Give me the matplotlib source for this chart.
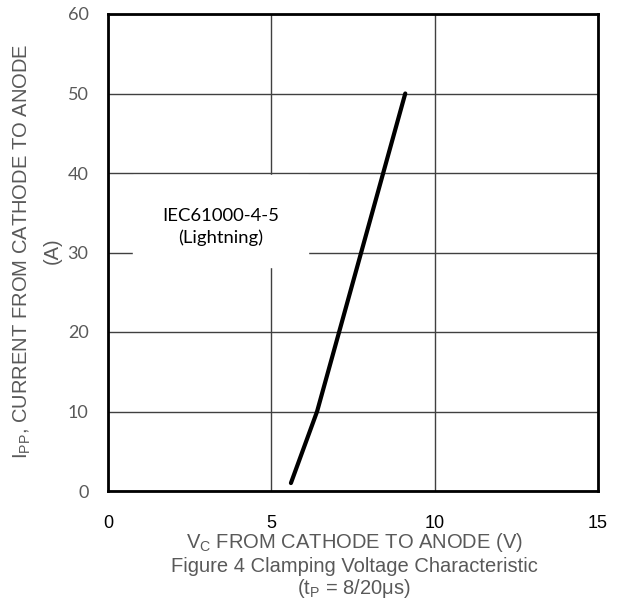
import matplotlib.pyplot as plt

plt.rcParams['mathtext.fontset'] = 'custom'
plt.rcParams['mathtext.rm'] = 'Liberation Sans'
plt.rcParams['mathtext.it'] = 'Liberation Sans'

# clamping curve (Vc vs Ipp)
vc = [5.6, 6.4, 9.1]
ipp = [1, 10, 50]

x_ticks = [0, 5, 10, 15]
y_ticks = [0, 10, 20, 30, 40, 50, 60]

fig = plt.figure(figsize=(6.28, 6.07), dpi=100)
ax = fig.add_axes([108 / 628, 1 - 491 / 607, 490 / 628, 477 / 607])

ax.plot(vc, ipp, color='black', linewidth=3, solid_capstyle='round', zorder=4)

ax.set_xlim(0, 15)
ax.set_ylim(0, 60)
ax.set_xticks(x_ticks)
ax.set_yticks(y_ticks)
ax.grid(color='#404040', linewidth=1)
ax.set_axisbelow(True)
for sp in ax.spines.values():
    sp.set_linewidth(2)
    sp.set_color('black')
ax.tick_params(length=0)
ax.tick_params(axis='x', pad=17, labelsize=13, labelcolor='black')
ax.tick_params(axis='y', pad=14, labelsize=13, labelcolor='#595959')
for lb in ax.get_xticklabels():
    lb.set_fontfamily('Liberation Sans')
for lb in ax.get_yticklabels():
    lb.set_fontfamily('Lato')

# white box behind the annotation
ax.axvspan(0.76, 6.11, ymin=(491 - 267) / 477, ymax=(491 - 175) / 477,
           color='white', zorder=3)
ax.text(3.45, 34.6, 'IEC61000-4-5', ha='center', va='center', fontsize=13.3,
        family='Lato', color='black', zorder=5)
ax.text(3.45, 31.9, '(Lightning)', ha='center', va='center', fontsize=13.3,
        family='Lato', color='black', zorder=5)

gray = '#595959'
fig.text(22 / 628, 1 - 251 / 607, r'I$_{\rm PP}$, CURRENT FROM CATHODE TO ANODE',
         rotation=90, ha='center', va='center', fontsize=14.5,
         family='Liberation Sans', color=gray)
fig.text(52 / 628, 1 - 251 / 607, '(A)', rotation=90, ha='center', va='center',
         fontsize=14.5, family='Liberation Sans', color=gray)

fig.text(354 / 628, 1 - 543 / 607, r'V$_{\rm C}$ FROM CATHODE TO ANODE (V)',
         ha='center', va='center', fontsize=14.5, family='Liberation Sans', color=gray)
fig.text(354 / 628, 1 - 566 / 607, 'Figure 4 Clamping Voltage Characteristic',
         ha='center', va='center', fontsize=14.5, family='Liberation Sans', color=gray)
fig.text(354 / 628, 1 - 589 / 607, r'(t$_{\rm P}$ = 8/20μs)',
         ha='center', va='center', fontsize=14.5, family='Liberation Sans', color=gray)

fig.savefig('out.png', dpi=100)
